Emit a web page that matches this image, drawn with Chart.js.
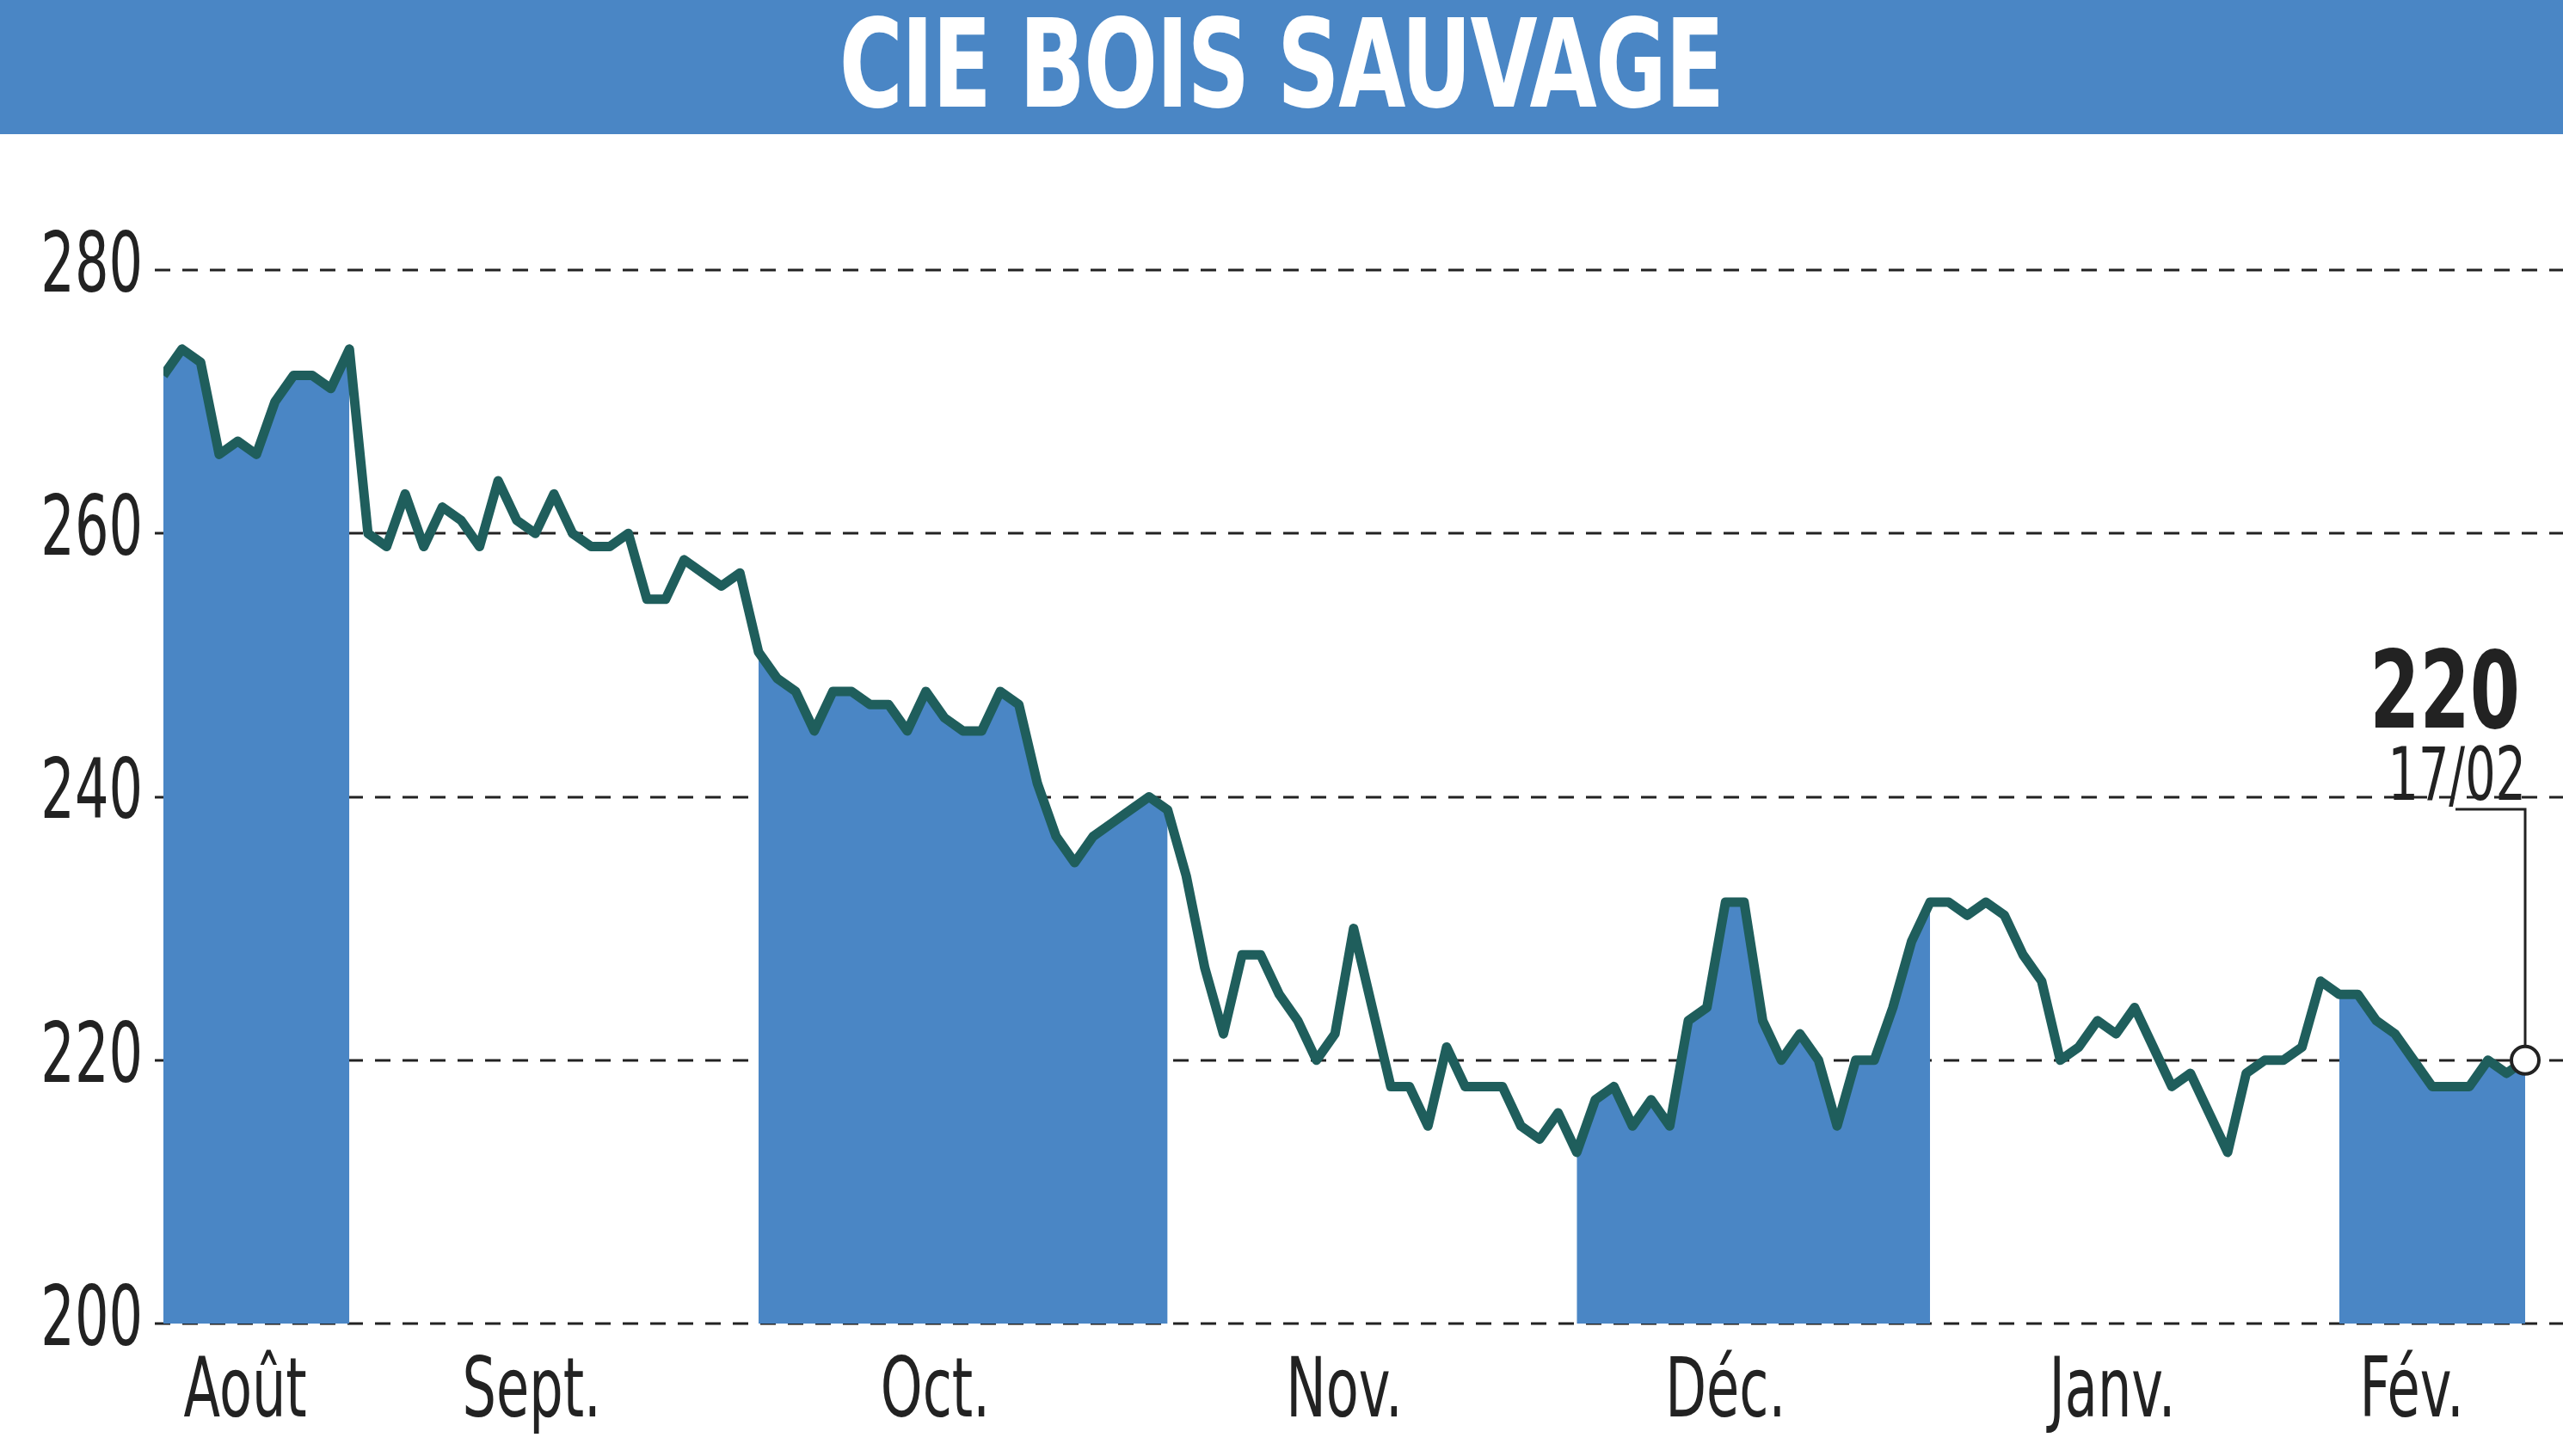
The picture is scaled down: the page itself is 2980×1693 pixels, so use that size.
<!DOCTYPE html>
<html><head><meta charset="utf-8">
<script src="https://cdn.jsdelivr.net/npm/chart.js@4"></script>
<style>
html,body{margin:0;padding:0;background:#fff;width:2980px;height:1693px;overflow:hidden}
#title{height:156px;background:#4a86c5;text-align:center;overflow:hidden}
#title span{display:inline-block;color:#fff;font-family:"DejaVu Sans Condensed","DejaVu Sans",sans-serif;font-weight:bold;font-size:142px;line-height:150px;transform:scaleX(0.79);letter-spacing:-2px}
#wrap{width:2980px;height:1537px;position:relative}
</style></head><body>
<div id="title"><span>CIE BOIS SAUVAGE</span></div>
<div id="wrap"><canvas id="c" width="2980" height="1537"></canvas></div>
<script>
const prices=[272,274,273,266,267,266,270,272,272,271,274,260,259,263,259,262,261,259,264,261,260,263,260,259,259,260,255,255,258,257,256,257,251,249,248,245,248,248,247,247,245,248,246,245,245,248,247,241,237,235,237,238,239,240,239,234,227,222,228,228,225,223,220,222,230,224,218,218,215,221,218,218,218,215,214,216,213,217,218,215,217,215,223,224,232,232,223,220,222,220,215,220,220,224,229,232,232,231,232,231,228,226,220,221,223,222,224,221,218,219,216,213,219,220,220,221,226,225,225,223,222,220,218,218,218,220,219,220];
const monthLabels=["Août","Sept.","Oct.","Nov.","Déc.","Janv.","Fév."];
const monthPos=[4.4,19.8,41.5,63.5,84,104.8,120.9];
const bands=[[0,10],[32,54],[76,95],[117,127]];
const yTicks=[200,220,240,260,280];
const lastLabel="220", lastDate="17/02";
const N=prices.length;
const pts=prices.map((v,i)=>({x:i,y:v}));
const bandSets=bands.map(([a,b])=>({data:pts.filter(p=>p.x>=a&&p.x<=b),fill:'origin',backgroundColor:'#4a86c5',borderWidth:0,pointRadius:0,order:2}));
const FONT='"DejaVu Sans Condensed","DejaVu Sans",sans-serif';
function txt(c,s,x,y,align,sx){c.save();c.translate(x,y);c.scale(sx,1);c.textAlign=align;c.fillText(s,0,0);c.restore();}
const deco={id:'deco',
beforeDatasetsDraw(ch){const c=ch.ctx,y=ch.scales.y;c.save();c.strokeStyle='#222';c.lineWidth=3;c.setLineDash([18,14]);
 yTicks.forEach(t=>{const py=Math.round(y.getPixelForValue(t));c.beginPath();c.moveTo(180,py);c.lineTo(2980,py);c.stroke();});c.restore();},
afterDraw(ch){const c=ch.ctx,x=ch.scales.x,y=ch.scales.y;c.save();c.fillStyle='#222';
 c.font='96px '+FONT;c.textBaseline='middle';
 yTicks.forEach(t=>txt(c,String(t),166,y.getPixelForValue(t),'right',0.72));
 monthLabels.forEach((m,i)=>txt(c,m,x.getPixelForValue(monthPos[i]),1466,'center',0.72));
 const lx=x.getPixelForValue(N-1),ly=y.getPixelForValue(prices[N-1]);
 c.strokeStyle='#222';c.lineWidth=3;c.beginPath();c.moveTo(2855,785);c.lineTo(lx,785);c.lineTo(lx,ly);c.stroke();
 c.beginPath();c.arc(lx,ly,16,0,Math.PI*2);c.fillStyle='#fff';c.fill();c.lineWidth=4;c.stroke();
 c.fillStyle='#222';c.textBaseline='alphabetic';
 c.font='bold 124px '+FONT;txt(c,lastLabel,2930,690,'right',0.75);
 c.font='86px '+FONT;txt(c,lastDate,2937,774,'right',0.72);
 c.restore();}};
new Chart(document.getElementById('c'),{type:'line',
data:{datasets:[{data:pts,borderColor:'#1f5e5c',borderWidth:11,pointRadius:0,fill:false,tension:0,order:1,borderJoinStyle:'round'},...bandSets]},
options:{responsive:false,animation:false,devicePixelRatio:1,
 layout:{padding:{left:190,right:44,top:158,bottom:154}},
 plugins:{legend:{display:false},tooltip:{enabled:false}},
 scales:{x:{type:'linear',min:0,max:N-1,display:false},y:{min:200,max:280,display:false}}},
plugins:[deco]});
</script>
</body></html>
